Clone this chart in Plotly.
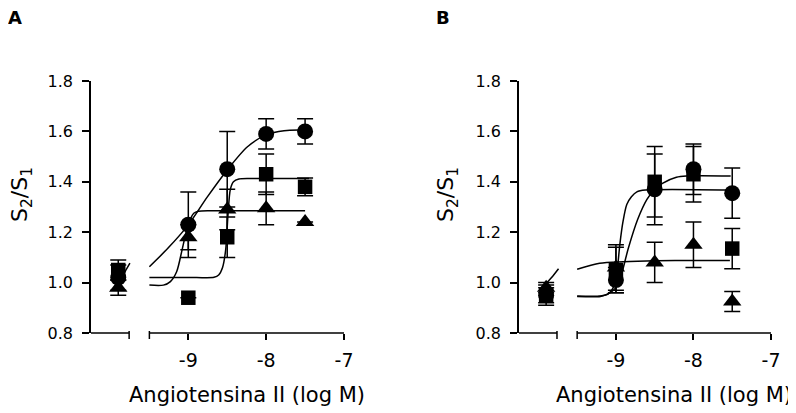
import plotly.graph_objects as go

# ---------------- data ----------------
CONTROL_X = -9.9
DOSES = [-9.0, -8.5, -8.0, -7.5]

# Panel A (control, then doses)
A_circle = [1.02, 1.23, 1.45, 1.59, 1.60]
A_circle_err = [0.05, 0.13, 0.15, 0.06, 0.05]
A_square = [1.05, 0.94, 1.18, 1.43, 1.38]
A_square_err = [0.04, 0.0, 0.08, 0.08, 0.035]
A_tri = [0.98, 1.18, 1.29, 1.295, 1.24]
A_tri_err = [0.03, 0.05, 0.08, 0.065, 0.0]

# Panel B
B_circle = [0.95, 1.01, 1.37, 1.45, 1.355]
B_circle_err = [0.03, 0.05, 0.14, 0.10, 0.10]
B_square = [0.95, 1.05, 1.40, 1.43, 1.135]
B_square_err = [0.04, 0.09, 0.14, 0.11, 0.08]
B_tri = [0.98, 1.06, 1.08, 1.15, 0.925]
B_tri_err = [0.02, 0.09, 0.08, 0.09, 0.04]

# fitted curves
A_c1_x = [-9.5, -9.26, -9.0, -8.76, -8.5, -8.24, -8.0, -7.77, -7.5]
A_c1_y = [1.063, 1.137, 1.229, 1.338, 1.447, 1.539, 1.586, 1.603, 1.605]
A_c2_x = [-9.5, -8.9, -8.67, -8.61, -8.56, -8.52, -8.49, -8.46, -8.42, -8.35, -8.2, -7.45]
A_c2_y = [1.02, 1.02, 1.021, 1.03, 1.06, 1.13, 1.27, 1.37, 1.40, 1.411, 1.413, 1.413]
A_c3_x = [-9.5, -9.32, -9.23, -9.15, -9.08, -9.02, -8.97, -8.93, -8.87, -8.7, -7.5]
A_c3_y = [0.99, 0.99, 1.004, 1.043, 1.13, 1.21, 1.255, 1.275, 1.283, 1.285, 1.285]
A_stub_x = [-9.86, -9.81, -9.75]
A_stub_y = [1.02, 1.045, 1.077]

B_c1_x = [-9.5, -9.2, -9.1, -9.02, -8.98, -8.95, -8.91, -8.86, -8.8, -8.73, -8.62, -7.52]
B_c1_y = [0.947, 0.947, 0.955, 0.99, 1.06, 1.15, 1.24, 1.31, 1.341, 1.36, 1.367, 1.367]
B_c2_x = [-9.5, -9.2, -9.1, -9.0, -8.95, -8.84, -8.72, -8.6, -8.5, -8.4, -8.22, -8.09, -7.52]
B_c2_y = [0.945, 0.945, 0.955, 0.98, 1.01, 1.136, 1.25, 1.33, 1.37, 1.394, 1.418, 1.423, 1.423]
B_c3_x = [-9.5, -9.21, -8.91, -8.48, -8.0, -7.53]
B_c3_y = [1.053, 1.077, 1.083, 1.087, 1.088, 1.088]
B_stub_x = [-9.92, -9.83, -9.74]
B_stub_y = [0.99, 1.02, 1.055]

Y_TICKS = [0.8, 1.0, 1.2, 1.4, 1.6, 1.8]
Y_TICKTEXT = ["0.8", "1.0", "1.2", "1.4", "1.6", "1.8"]
X_TICKS = [-9, -8, -7]
X_TICKTEXT = ["-9", "-8", "-7"]
X_TITLE = "Angiotensina II (log M)"
Y_TITLE = "S<sub>2</sub>/S<sub>1</sub>"

# ---------------- figure ----------------
W, H = 796, 413
FONT = "DejaVu Sans"
PAGE_OFF = 8  # default page margin around the figure


def PY(py):
    return 1 - (py - PAGE_OFF) / H


def PX(px):
    return (px - PAGE_OFF) / W


fig = go.Figure()

panels = [
    dict(xa="x", ya="y", circle=(A_circle, A_circle_err), square=(A_square, A_square_err),
         tri=(A_tri, A_tri_err), curves=[(A_c1_x, A_c1_y), (A_c2_x, A_c2_y), (A_c3_x, A_c3_y), (A_stub_x, A_stub_y)]),
    dict(xa="x2", ya="y2", circle=(B_circle, B_circle_err), square=(B_square, B_square_err),
         tri=(B_tri, B_tri_err), curves=[(B_c1_x, B_c1_y), (B_c2_x, B_c2_y), (B_c3_x, B_c3_y), (B_stub_x, B_stub_y)]),
]

xs = [CONTROL_X] + DOSES
for p in panels:
    for cx, cy in p["curves"]:
        fig.add_trace(go.Scatter(x=cx, y=cy, mode="lines", xaxis=p["xa"], yaxis=p["ya"],
                                 line=dict(color="black", width=1.5, shape="spline", smoothing=0.8),
                                 showlegend=False, hoverinfo="skip", cliponaxis=False))
    for key, sym, size in [("square", "square", 14.5), ("tri", "triangle-up", 16), ("circle", "circle", 16)]:
        vals, errs = p[key]
        fig.add_trace(go.Scatter(x=xs, y=vals, mode="markers", xaxis=p["xa"], yaxis=p["ya"],
                                 marker=dict(symbol=sym, size=size, color="black"),
                                 error_y=dict(type="data", array=errs, visible=True, color="black",
                                              thickness=1.5, width=8),
                                 showlegend=False, cliponaxis=False))

y0p = PY(333)
y1p = PY(81)
xdomA = [PX(91), PX(344)]
xdomB = [PX(519), PX(771)]
xrange_ = [-10.25, -7.0]

axis_common_x = dict(range=xrange_, showline=False, showgrid=False, zeroline=False,
                     ticks="outside", ticklen=6, tickwidth=1.5, tickcolor="black",
                     tickvals=X_TICKS, ticktext=X_TICKTEXT, ticklabelstandoff=4,
                     tickfont=dict(family=FONT, size=19, color="black"), automargin=False)
axis_common_y = dict(range=[0.8, 1.8], domain=[y0p, y1p], showline=True, linecolor="black",
                     linewidth=1.5, showgrid=False, zeroline=False, ticks="outside", ticklen=7,
                     tickwidth=1.5, tickcolor="black", tickvals=Y_TICKS, ticktext=Y_TICKTEXT,
                     ticklabelstandoff=6, automargin=False,
                     tickfont=dict(family=FONT, size=16, color="black"))

fig.update_layout(
    width=W, height=H, margin=dict(l=0, r=0, t=0, b=0, autoexpand=False),
    paper_bgcolor="white", plot_bgcolor="white",
    xaxis=dict(axis_common_x, domain=xdomA, anchor="y"),
    yaxis=dict(axis_common_y, anchor="x"),
    xaxis2=dict(axis_common_x, domain=xdomB, anchor="y2"),
    yaxis2=dict(axis_common_y, anchor="x2"),
    font=dict(family=FONT, color="black"),
)

shapes = []
tick_up = 2 / H
tick_dn = 6 / H
for xr in ["x", "x2"]:
    # broken x axis: control segment and dose segment
    shapes.append(dict(type="line", xref=xr, yref="paper", x0=-10.25, x1=-9.76, y0=y0p, y1=y0p,
                       line=dict(color="black", width=1.5)))
    shapes.append(dict(type="line", xref=xr, yref="paper", x0=-9.5, x1=-7.0, y0=y0p, y1=y0p,
                       line=dict(color="black", width=1.5)))
    for xe in [-9.76, -9.5]:
        shapes.append(dict(type="line", xref=xr, yref="paper", x0=xe, x1=xe,
                           y0=y0p + tick_up, y1=y0p - tick_dn, line=dict(color="black", width=1.5)))
fig.update_layout(shapes=shapes)

annos = []
for xr, lab, lx, ytx in [("x", "A", 15, 21), ("x2", "B", 443, 447)]:
    annos.append(dict(text=f"<b>{lab}</b>", xref="paper", yref="paper", x=PX(lx), y=PY(17),
                      showarrow=False, xanchor="center", yanchor="middle",
                      font=dict(family=FONT, size=18, color="black")))
    annos.append(dict(text=X_TITLE, xref=xr, yref="paper", x=-8.25, y=PY(395),
                      showarrow=False, xanchor="center", yanchor="middle",
                      font=dict(family=FONT, size=21, color="black")))
    annos.append(dict(text=Y_TITLE, xref="paper", yref="paper", x=PX(ytx), y=PY(195),
                      showarrow=False, xanchor="center", yanchor="middle", textangle=-90,
                      font=dict(family=FONT, size=22, color="black")))
fig.update_layout(annotations=annos)

fig.write_html("out.html")
